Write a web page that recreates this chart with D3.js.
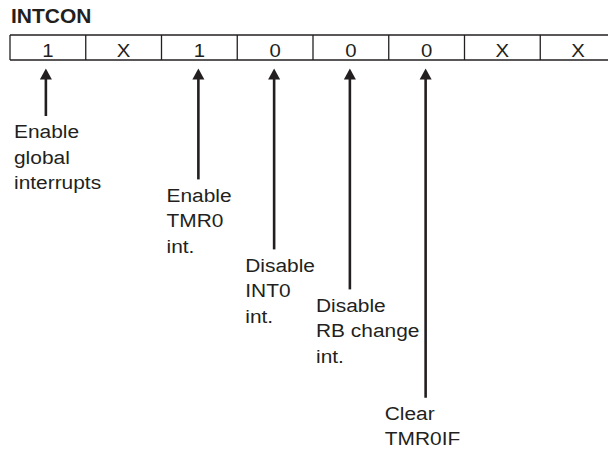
<!DOCTYPE html>
<html>
<head>
<meta charset="utf-8">
<script src="https://cdn.jsdelivr.net/npm/d3@7"></script>
<style>
  html, body { margin: 0; padding: 0; background: #fff; }
  svg { display: block; }
  text { font-family: "Liberation Sans", Arial, Helvetica, sans-serif; fill: #231f20; }
</style>
</head>
<body>
<svg id="chart" width="608" height="449"></svg>
<script>
// ---- data ----
const registerName = "INTCON";
const bitIndex = [7, 6, 5, 4, 3, 2, 1, 0];
const bitValues = ["1", "X", "1", "0", "0", "0", "X", "X"];
const annotatedBits = [7, 5, 4, 3, 2];
const annotationText = [
  ["Enable", "global", "interrupts"],
  ["Enable", "TMR0", "int."],
  ["Disable", "INT0", "int."],
  ["Disable", "RB change", "int."],
  ["Clear", "TMR0IF"]
];

// ---- layout ----
const W = 608, H = 449;
const ink = "#231f20";
const rowTop = 35, rowBottom = 60;
const arrowTip = 68.5;
// first-line baseline of each annotation and horizontal offset from the cell's left edge
const labelBaseline = [138.3, 201.7, 271.7, 311.7, 420];
const labelDx = [4, 5, 8, 3, -4];
const lineGap = 25.5;
const capH = 13.3;

const svg = d3.select("#chart");

const x = d3.scaleBand()
  .domain(bitIndex)
  .range([10, 616])
  .paddingInner(0).paddingOuter(0);

// title
svg.append("text")
  .attr("transform", "translate(11,23.3) scale(1.05,1)")
  .attr("font-size", 20).attr("font-weight", "bold")
  .text(registerName);

// register row: top/bottom rules and cell dividers
svg.append("line").attr("x1", 10).attr("x2", W).attr("y1", rowTop).attr("y2", rowTop)
  .attr("stroke", ink).attr("stroke-width", 1.5);
svg.append("line").attr("x1", 10).attr("x2", W).attr("y1", rowBottom).attr("y2", rowBottom)
  .attr("stroke", ink).attr("stroke-width", 1.5);
svg.selectAll("line.div").data(bitIndex).enter().append("line")
  .attr("class", "div")
  .attr("x1", d => x(d)).attr("x2", d => x(d))
  .attr("y1", rowTop).attr("y2", rowBottom)
  .attr("stroke", ink).attr("stroke-width", 1.3);

svg.selectAll("text.bit").data(bitIndex).enter().append("text")
  .attr("class", "bit")
  .attr("transform", d => `translate(${x(d) + x.bandwidth() / 2},56.5) scale(1.1,1)`)
  .attr("text-anchor", "middle")
  .attr("font-size", 18.5)
  .text((d, i) => bitValues[i]);

// arrows + annotations
const ann = annotatedBits.map((b, i) => ({ bit: b, lines: annotationText[i], i }));
const ax = d => x(d.bit) + x.bandwidth() / 2 - (d.i === 0 ? 2 : 1);

const g = svg.selectAll("g.ann").data(ann).enter().append("g").attr("class", "ann");

g.append("line")
  .attr("x1", ax).attr("x2", ax)
  .attr("y1", arrowTip + 8)
  .attr("y2", d => labelBaseline[d.i] - capH - 9)
  .attr("stroke", ink).attr("stroke-width", 2.6);

g.append("path")
  .attr("d", d => {
    const cx = ax(d);
    return `M${cx},${arrowTip} L${cx + 6},${arrowTip + 11} L${cx - 6},${arrowTip + 11} Z`;
  })
  .attr("fill", ink);

g.each(function (d) {
  const t = d3.select(this).append("text")
    .attr("font-size", 19)
    .attr("transform", `translate(${x(d.bit) + labelDx[d.i]},${labelBaseline[d.i]}) scale(1.1,1)`);
  d.lines.forEach((ln, k) => {
    t.append("tspan").attr("x", 0).attr("y", k * lineGap).text(ln);
  });
});
</script>
</body>
</html>
